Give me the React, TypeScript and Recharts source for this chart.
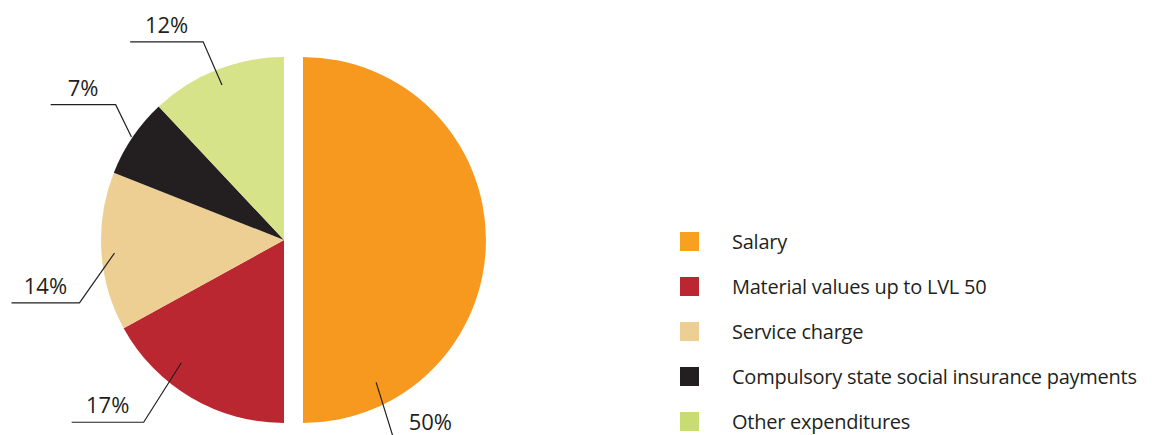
import { PieChart, Pie, Cell, Legend } from 'recharts';

// #region Data
const categories = [
  'Salary',
  'Material values up to LVL 50',
  'Service charge',
  'Compulsory state social insurance payments',
  'Other expenditures',
];
const shares = [50, 17, 14, 7, 12];
const colors = ['#F7991F', '#BB2731', '#EDCF93', '#231F20', '#D6E388'];
const legendColors = ['#F7A11F', '#BB2731', '#EDCF93', '#231F20', '#C8DC72'];
// #endregion

// label guide layout per slice: anchor angle/radius, elbow angle/radius, arm length (+ right, - left)
const guides = [
  { a0: -62.8, r0: 160, a1: -65.5, r1: 219, arm: 73 },
  { a0: 230.1, r0: 160, a1: 232.4, r1: 230, arm: -72 },
  { a0: 184.4, r0: 170, a1: 197.1, r1: 214, arm: -68 },
  { a0: 146.0, r0: 184, a1: 141.2, r1: 216, arm: -65 },
  { a0: 111.8, r0: 167, a1: 112.2, r1: 214, arm: -73 },
];

const data = categories.map((name, i) => ({ name, value: shares[i] }));

const RAD = Math.PI / 180;
const FONT = '"Open Sans", sans-serif';
const INK = '#231F20';

const polar = (cx: number, cy: number, r: number, a: number) => ({
  x: cx + r * Math.cos(-a * RAD),
  y: cy + r * Math.sin(-a * RAD),
});

const makeLabel = (only: number | null) => (props: any) => {
  const { cx, cy, index, value } = props;
  if (only === null ? index === 0 : index !== only) return null;
  const g = guides[index];
  const p0 = polar(cx, cy, g.r0, g.a0);
  const p1 = polar(cx, cy, g.r1, g.a1);
  const x2 = p1.x + g.arm;
  return (
    <g>
      <polyline
        points={`${p0.x},${p0.y} ${p1.x},${p1.y} ${x2},${p1.y}`}
        fill="none"
        stroke={INK}
        strokeWidth={1.2}
      />
      <text
        x={(p1.x + x2) / 2}
        y={p1.y - 9}
        textAnchor="middle"
        fontFamily={FONT}
        fontSize={22}
        fill={INK}
      >
        {`${value}%`}
      </text>
    </g>
  );
};

const renderLegend = () => (
  <div style={{ fontFamily: FONT, fontSize: 20, letterSpacing: -0.25, color: INK }}>
    {categories.map((name, i) => (
      <div key={name} style={{ display: 'flex', alignItems: 'center', height: 45 }}>
        <span
          style={{ width: 19, height: 19, background: legendColors[i], marginRight: 33, flex: 'none' }}
        />
        <span style={{ whiteSpace: 'nowrap' }}>{name}</span>
      </div>
    ))}
  </div>
);

const App = () => {
  return (
    <div style={{ position: 'absolute', left: 0, top: 0 }}>
      <PieChart width={1158} height={435} margin={{ top: 0, right: 0, bottom: 0, left: 0 }}>
        <Pie
          data={data}
          dataKey="value"
          cx={284}
          cy={240}
          outerRadius={183}
          startAngle={90}
          endAngle={-270}
          stroke="none"
          labelLine={false}
          label={makeLabel(null)}
          legendType="none"
          isAnimationActive={false}
        >
          {data.map((d, i) => (
            <Cell key={d.name} fill={i === 0 ? 'none' : colors[i]} />
          ))}
        </Pie>
        <Pie
          data={data}
          dataKey="value"
          cx={303}
          cy={240}
          outerRadius={183}
          startAngle={90}
          endAngle={-270}
          stroke="none"
          labelLine={false}
          label={makeLabel(0)}
          legendType="none"
          isAnimationActive={false}
        >
          {data.map((d, i) => (
            <Cell key={d.name} fill={i === 0 ? colors[i] : 'none'} />
          ))}
        </Pie>
        <Legend
          content={renderLegend}
          wrapperStyle={{ position: 'absolute', left: 680, top: 219, width: 470 }}
        />
      </PieChart>
    </div>
  );
};

export default App;
